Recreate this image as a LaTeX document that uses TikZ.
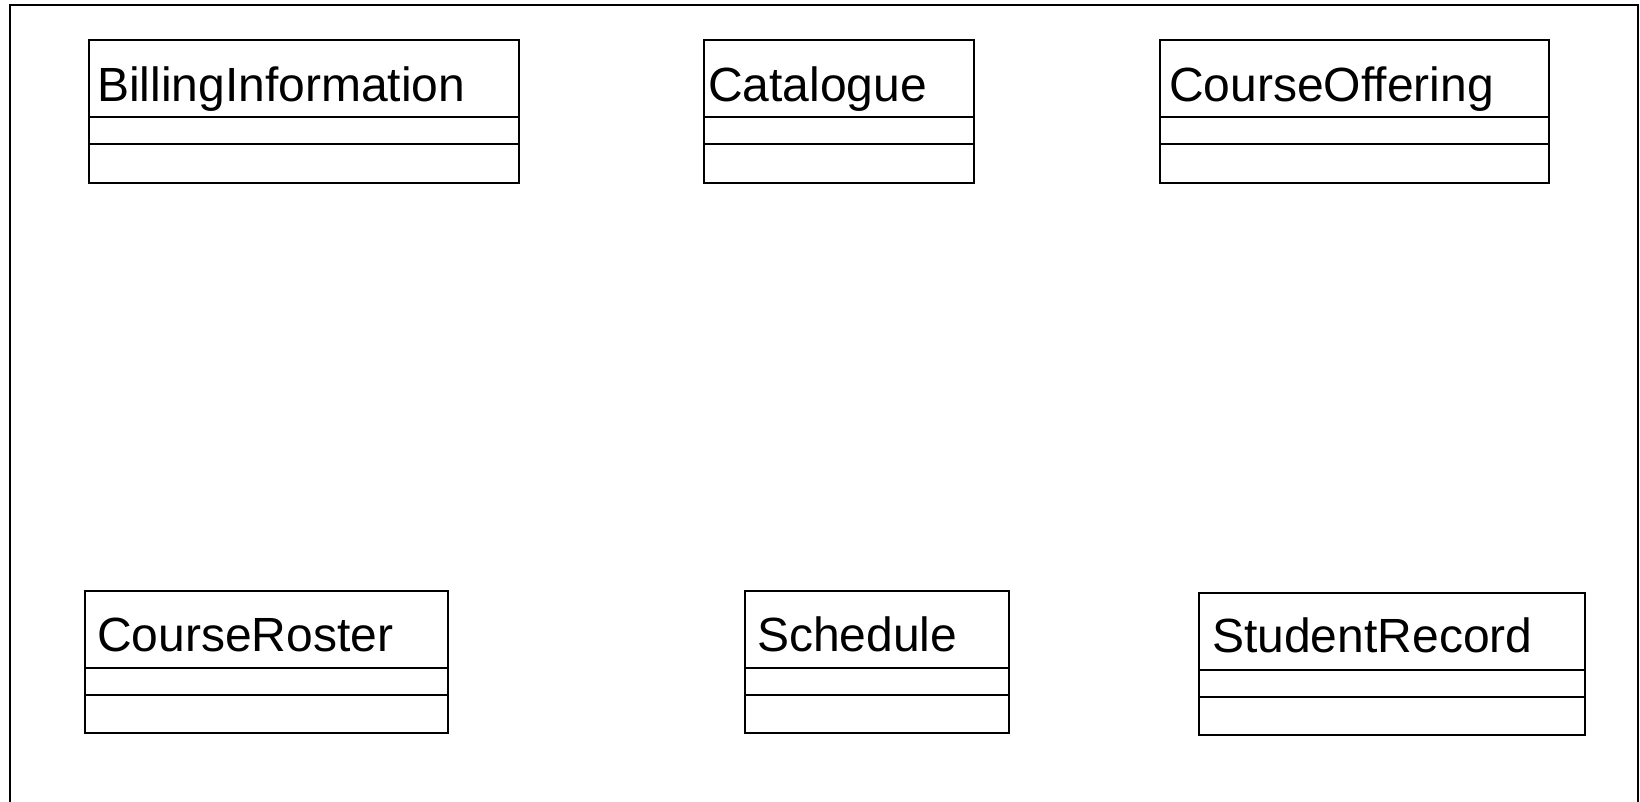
\documentclass[tikz,border=0pt]{standalone}
\usepackage{fontspec}
\setmainfont{Liberation Sans}
\tikzset{
  cls/.style={draw=black, line width=2pt, fill=white},
  sep/.style={draw=black, line width=2pt},
  lbl/.style={anchor=base west, inner sep=0pt, font=\fontsize{48}{48}\selectfont},
}
% \umlclass{name}{x1}{x2}{ytop}{y1}{y2}{ybot}{textx}{base}{text}
\newcommand{\umlclass}[9]{%
  \path[cls] (#2,#4) rectangle (#3,#7);
  \draw[sep] (#2,#5) -- (#3,#5);
  \draw[sep] (#2,#6) -- (#3,#6);
  \node[lbl] (#1) at (#8,#9) {\umlname};
}
\begin{document}
\begin{tikzpicture}[x=1pt,y=-1pt]
\useasboundingbox (0,0) rectangle (1640,802);
\fill[white] (0,0) rectangle (1640,802);
\draw[line width=2pt] (9.5,802) -- (9.5,5.5) -- (1638,5.5) -- (1638,802);
\def\umlname{BillingInformation}
\umlclass{bi}{89}{519}{40}{117}{144.5}{183}{97}{101.5}
\def\umlname{Catalogue}
\umlclass{cat}{704}{974}{40}{117}{144.5}{183}{708}{101.5}
\def\umlname{CourseOffering}
\umlclass{co}{1160}{1549}{40}{117}{144.5}{183}{1169}{101.5}
\def\umlname{CourseRoster}
\umlclass{cr}{85}{448}{591}{667.5}{694.5}{733}{97}{651.5}
\def\umlname{Schedule}
\umlclass{sch}{745}{1009}{591}{667.5}{694.5}{733}{757}{651.5}
\def\umlname{StudentRecord}
\umlclass{sr}{1199}{1585}{592.5}{669.5}{696.5}{735}{1212}{652.5}
\end{tikzpicture}
\end{document}
